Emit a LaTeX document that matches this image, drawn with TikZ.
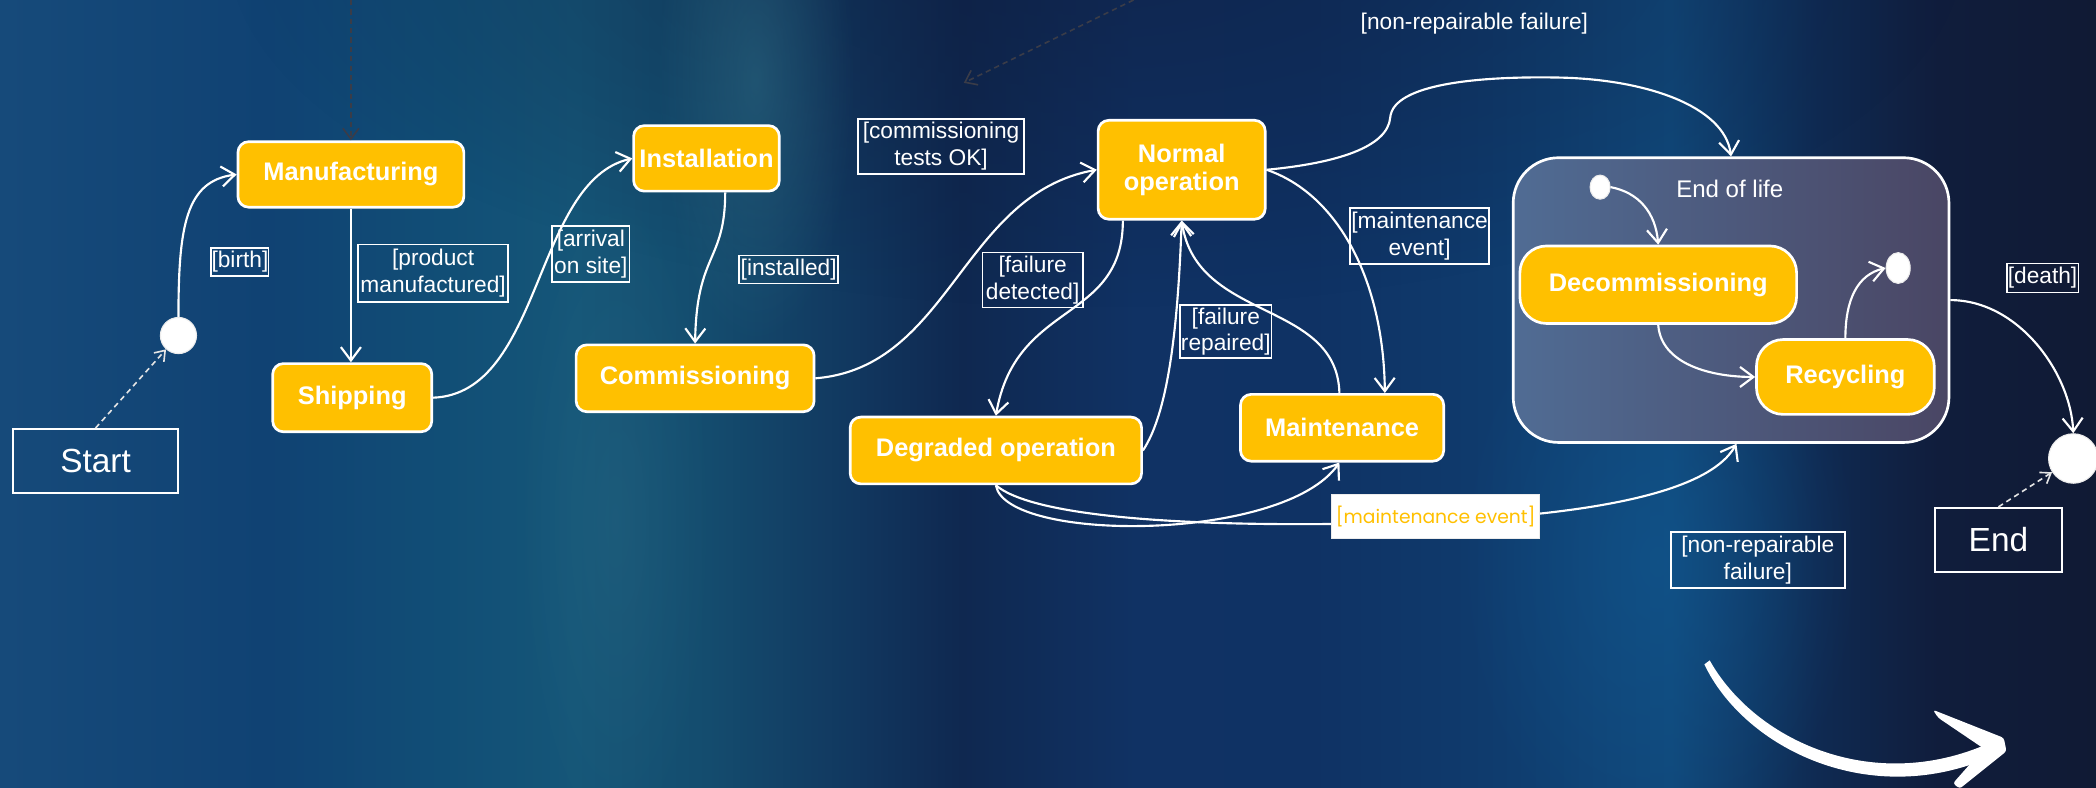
\documentclass[tikz,border=0pt]{standalone}
\usepackage{fontspec}
\setmainfont{Liberation Sans}
\newfontfamily\gothfont{Poppins}
\usetikzlibrary{arrows.meta,shapes.geometric,fadings,calc}

% palette
\definecolor{nodeyellow}{RGB}{255,192,0}
\definecolor{bgA}{RGB}{22,74,122}
\definecolor{bgB}{RGB}{16,66,115}
\definecolor{bgC}{RGB}{17,78,118}
\definecolor{bgD}{RGB}{21,86,120}
\definecolor{bgE}{RGB}{20,76,110}
\definecolor{bgF}{RGB}{17,55,95}
\definecolor{bgG}{RGB}{15,40,80}
\definecolor{bgH}{RGB}{16,50,100}
\definecolor{bgI}{RGB}{15,50,100}
\definecolor{bgJ}{RGB}{15,58,108}
\definecolor{bgK}{RGB}{16,72,122}
\definecolor{bgL}{RGB}{15,42,82}
\definecolor{bgM}{RGB}{16,29,60}
\definecolor{bgN}{RGB}{16,26,52}
\definecolor{navyhaze}{RGB}{14,28,62}
\definecolor{tealstreak}{RGB}{50,115,138}
\definecolor{blueglow}{RGB}{18,92,150}
\definecolor{eolA}{RGB}{80,108,148}
\definecolor{eolB}{RGB}{74,70,100}
\definecolor{faint}{RGB}{58,60,72}

\pgfdeclarehorizontalshading{backdrop}{100bp}{%
  color(0bp)=(bgA); color(25bp)=(bgA); color(31.38bp)=(bgB);
  color(35.52bp)=(bgC); color(38.71bp)=(bgD); color(41.9bp)=(bgE);
  color(45.41bp)=(bgF); color(47.96bp)=(bgG); color(52.1bp)=(bgH);
  color(56.25bp)=(bgI); color(60.08bp)=(bgJ); color(64.86bp)=(bgK);
  color(68.37bp)=(bgL); color(71.24bp)=(bgM); color(75bp)=(bgN);
  color(100bp)=(bgN)}

\tikzfading[name=softglow, inner color=transparent!0, outer color=transparent!100]

\begin{document}
\begin{tikzpicture}[x=0.5pt,y=-0.5pt,
  state/.style={draw=white, line width=1pt, fill=nodeyellow, rounded corners=4pt,
    text=white, font=\fontsize{9.5}{10.6}\selectfont\bfseries, align=center, inner sep=0pt},
  guard/.style={draw=white, line width=0.6pt, text=white,
    font=\fontsize{8.5}{10}\selectfont, align=center, inner sep=0pt},
  termbox/.style={draw=white, line width=0.8pt, text=white,
    font=\fontsize{12.5}{14}\selectfont, inner sep=0pt},
  pseudo/.style={ellipse, fill=white, draw=white!85!gray, line width=0.4pt, inner sep=0pt},
  conn/.style={draw=white, line width=0.8pt, -{Straight Barb[length=5pt,width=7.5pt]}},
  dashline/.style={draw=white!80!gray, line width=0.6pt, dash pattern=on 2pt off 1.5pt,
    -{Straight Barb[length=3.5pt,width=5pt]}},
  faintline/.style={draw=faint, line width=0.6pt, dash pattern=on 2pt off 1.5pt,
    -{Straight Barb[length=4pt,width=6pt]}}
]
\useasboundingbox (0,0) rectangle (1568,589);

% backdrop
\shade[shading=backdrop] (0,0) rectangle (1568,589);
\fill[navyhaze, path fading=softglow, opacity=0.55] (820,-40) ellipse [x radius=650, y radius=270];
\fill[tealstreak, path fading=softglow, opacity=0.45] (565,60) ellipse [x radius=75, y radius=200];
\fill[tealstreak, path fading=softglow, opacity=0.25] (460,390) ellipse [x radius=75, y radius=260];
\fill[blueglow, path fading=softglow, opacity=0.45] (1240,420) ellipse [x radius=150, y radius=230];

% states of the life cycle
\node[state, minimum width=84.5pt, minimum height=24.5pt] (man) at (262.5,130.5) {Manufacturing};
\node[state, minimum width=59.5pt, minimum height=25.5pt] (ship) at (263.5,297.5) {Shipping};
\node[state, minimum width=54.5pt, minimum height=24.5pt] (inst) at (528.5,118.5) {Installation};
\node[state, minimum width=89pt, minimum height=25pt] (comm) at (520,283) {Commissioning};
\node[state, minimum width=62.5pt, minimum height=37pt] (norm) at (884,127) {Normal\\operation};
\node[state, minimum width=109pt, minimum height=25pt] (degr) at (745,337) {Degraded operation};
\node[state, minimum width=76pt, minimum height=25pt] (maint) at (1004,320) {Maintenance};

% composite end-of-life state
\node[draw=white, line width=1pt, rounded corners=17pt, left color=eolA, right color=eolB,
  minimum width=163pt, minimum height=106.5pt, inner sep=0pt] (eol) at (1295,224.5) {};
\node[text=white, font=\fontsize{9}{10}\selectfont] (eoltitle) at (1294,141) {End of life};
\node[state, rounded corners=10pt, minimum width=103.5pt, minimum height=29pt] (decom) at (1240.5,213) {Decommissioning};
\node[state, rounded corners=10pt, minimum width=66.5pt, minimum height=28pt] (recyc) at (1380.5,282) {Recycling};
\node[pseudo, minimum width=7.5pt, minimum height=9pt] (eolinit) at (1197,140) {};
\node[pseudo, minimum width=9pt, minimum height=11.5pt] (eolfinal) at (1420,200.5) {};

% initial and final pseudo-states
\node[pseudo, minimum size=13.5pt] (sdot) at (133.5,251) {};
\node[pseudo, minimum size=18.5pt] (edot) at (1551,343) {};
\node[termbox, minimum width=61.5pt, minimum height=24pt] (start) at (71.5,345) {Start};
\node[termbox, minimum width=47.5pt, minimum height=24pt] (endbox) at (1495,404) {End};

% guards
\node[guard, minimum width=21.5pt, minimum height=10.5pt] (gbirth) at (179.5,196) {[birth]};
\node[guard, minimum width=56pt, minimum height=21.5pt] (gprod) at (324,204.5) {[product\\manufactured]};
\node[guard, minimum width=29pt, minimum height=21pt] (garr) at (442,190) {[arrival\\on site]};
\node[guard, minimum width=37pt, minimum height=10.5pt] (ginst) at (590,201.5) {[installed]};
\node[guard, minimum width=62pt, minimum height=20.5pt] (gtest) at (704,109.5) {[commissioning\\tests OK]};
\node[guard, minimum width=37.5pt, minimum height=20.5pt] (gdet) at (772.5,209.5) {[failure\\detected]};
\node[guard, minimum width=34.25pt, minimum height=20pt] (grep) at (917,248) {[failure\\repaired]};
\node[guard, minimum width=52pt, minimum height=21pt] (gmaint) at (1062,176.5) {[maintenance\\event]};
\node[guard, minimum width=65pt, minimum height=21pt] (gnonrep) at (1315,419) {[non-repairable\\failure]};
\node[guard, minimum width=26.75pt, minimum height=10.75pt] (gdeath) at (1528,208) {[death]};
\node[text=white, font=\fontsize{8.5}{10}\selectfont] (gnonreptop) at (1103,18) {[non-repairable failure]};

% faint references coming from above
\coordinate (srcA) at (262.5,0);
\coordinate (srcB) at (848,0);
\coordinate (dstB) at (721,62);
\draw[faintline] (srcA) -- (man.north);
\draw[faintline] (srcB) -- (dstB);

% transitions
\draw[dashline] (start.north) -- (sdot);
\draw[conn] (sdot.north) .. controls +(0,-68) and +(-38,5) .. (man.west);
\draw[conn] (man.south) -- (man.south |- ship.north);
\draw[conn] (ship.east) .. controls +(82,-3) and +(-74,17) .. (inst.west);
\draw[conn] ([xshift=7pt]inst.south) .. controls +(0,52) and +(1,-68) .. (comm.north);
\draw[conn] (comm.east) .. controls +(101,-8) and +(-101,18) .. (norm.west);
\draw[conn] ([xshift=-22pt]norm.south) .. controls +(0,77) and +(15,-87) .. (degr.north);
\draw[conn] (degr.east) .. controls +(18,-27) and +(-3,86) .. (norm.south);
\draw[conn] ([xshift=-1pt]maint.north) .. controls +(-2,-70) and +(11,76) .. (norm.south);
\draw[conn] (norm.east) .. controls +(53,18) and +(-1,-85) .. ([xshift=16pt]maint.north);
\coordinate (nrbend) at (1040,88);
\coordinate (nrtop) at (1165,58);
\draw[conn] (norm.east) .. controls +(53,-5) and +(-2,22) .. (nrbend)
  .. controls +(2,-26) and +(-55,-1) .. (nrtop)
  .. controls +(65,1) and +(-5,-38) .. (eol.north);
\draw[conn] (degr.south) .. controls +(7,43) and +(-42,60) .. ([xshift=-1pt]maint.south);
\coordinate (mevmid) at (1074,390);
\draw[conn] (degr.south) .. controls +(35,30) and +(-124,5) .. (mevmid)
  .. controls +(106,-5) and +(-22,39) .. ([xshift=2pt]eol.south);
\node[fill=white, draw=white!85!gray, line width=0.4pt, minimum width=78pt, minimum height=16.5pt,
  inner sep=0pt, text=nodeyellow, font=\gothfont\fontsize{7}{8}\selectfont] (gmev) at (1074,386.5) {[maintenance event]};

\draw[conn] (eolinit.east) .. controls +(21,4) and +(-2,-24) .. (decom.north);
\draw[conn] (decom.south) .. controls +(2,29) and +(-34,0) .. (recyc.west);
\draw[conn] (recyc.north) .. controls +(0,-29) and +(-21,5) .. (eolfinal.west);
\draw[conn] (eol.east) .. controls +(51,0) and +(-2,-45) .. (edot.north);
\draw[dashline] (endbox.north) -- (edot);

% brush-stroke arrow in the corner
\fill[white] (1279,494) .. controls (1312,553) and (1400,595) .. (1488,556)
  -- (1492,565) .. controls (1400,607) and (1305,560) .. (1275,497) -- cycle;
\fill[white, rounded corners=1pt] (1446,531) -- (1499,552) -- (1501,562) -- (1466,590)
  -- (1461,586) -- (1484,560) -- (1450,537) -- cycle;
\end{tikzpicture}
\end{document}
